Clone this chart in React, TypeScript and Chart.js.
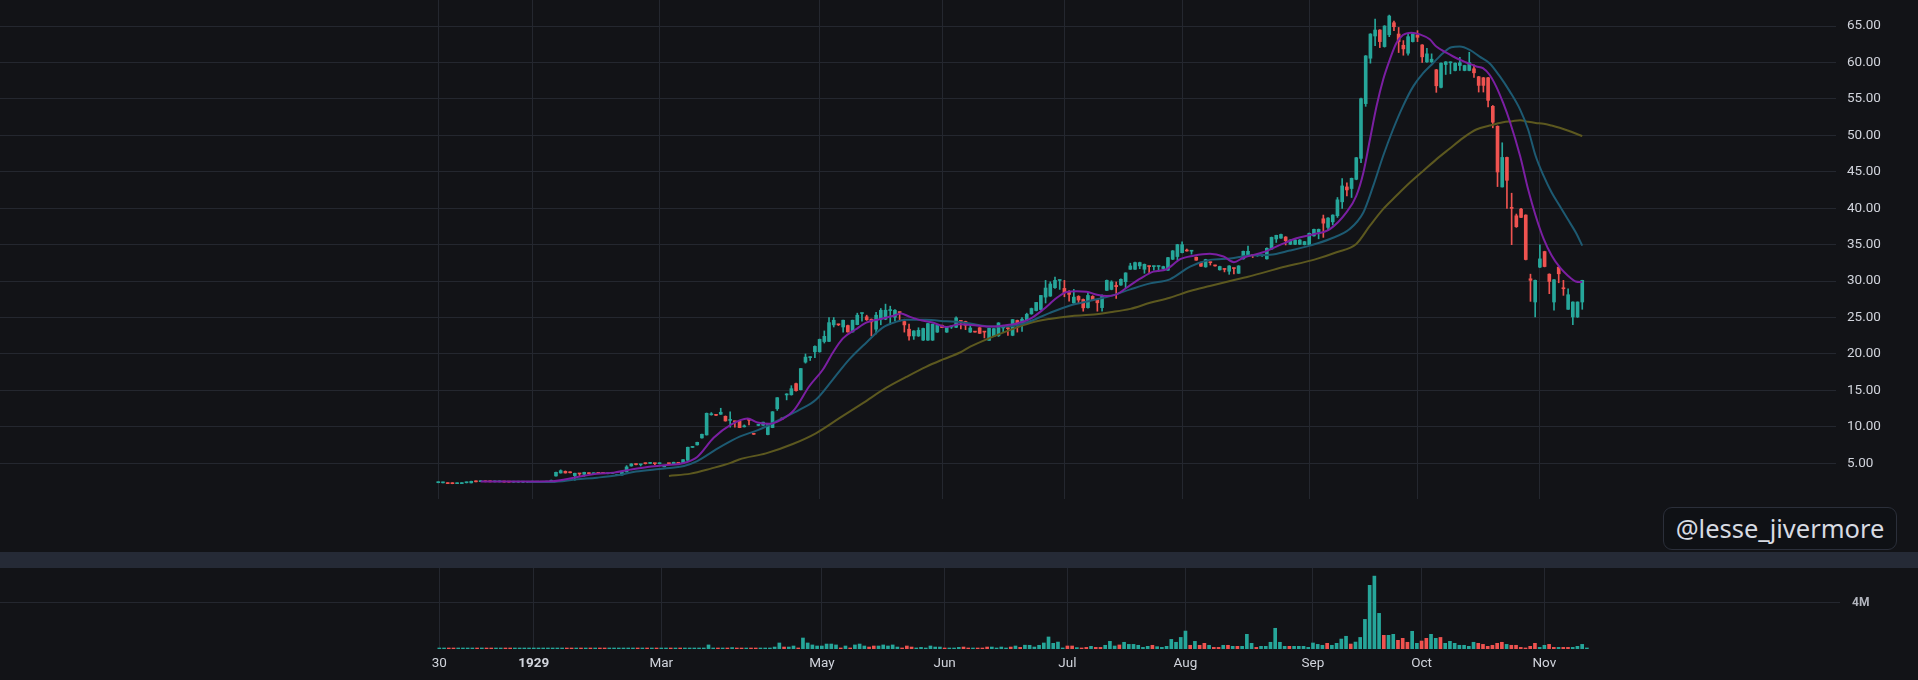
import React, { useEffect, useRef } from "react";
import { Chart, registerables } from "chart.js";

Chart.register(...registerables);

// ---------- DATA ----------
// daily candles [open, high, low, close], bar index 0 = "30" (Dec 1928)
const ohlc: number[][] = [
  [2.34, 2.37, 2.32, 2.36], [2.32, 2.35, 2.3, 2.34], [2.24, 2.25, 2.2, 2.21], [2.23, 2.24, 2.19, 2.2],
  [2.2, 2.23, 2.19, 2.22], [2.21, 2.24, 2.2, 2.23], [2.33, 2.37, 2.3, 2.35], [2.31, 2.55, 2.3, 2.53],
  [2.51, 2.52, 2.44, 2.46], [2.48, 2.54, 2.47, 2.53], [2.49, 2.5, 2.45, 2.47], [2.48, 2.49, 2.44, 2.46],
  [2.45, 2.48, 2.44, 2.47], [2.45, 2.48, 2.44, 2.47], [2.46, 2.47, 2.41, 2.43], [2.45, 2.46, 2.4, 2.42],
  [2.41, 2.44, 2.4, 2.43], [2.41, 2.44, 2.4, 2.43], [2.41, 2.43, 2.39, 2.42], [2.4, 2.43, 2.39, 2.42],
  [2.41, 2.44, 2.4, 2.43], [2.41, 2.43, 2.39, 2.42], [2.4, 2.43, 2.39, 2.42], [2.41, 2.44, 2.4, 2.43],
  [2.4, 2.7, 2.39, 2.67], [3.26, 3.78, 3.24, 3.76], [3.67, 4.1, 3.65, 3.99], [3.9, 3.95, 3.65, 3.67],
  [3.72, 3.75, 3.68, 3.7], [3.31, 3.65, 2.67, 3.63], [3.56, 3.58, 3.31, 3.54], [3.49, 3.78, 3.22, 3.76],
  [3.6, 3.62, 3.55, 3.58], [3.57, 3.6, 3.55, 3.59], [3.64, 3.66, 3.6, 3.62], [3.65, 3.66, 3.6, 3.62],
  [3.57, 3.6, 3.55, 3.59], [3.62, 3.65, 3.6, 3.64], [3.34, 3.37, 3.3, 3.36], [3.4, 3.78, 3.38, 3.76],
  [3.81, 4.68, 3.8, 4.5], [4.63, 4.95, 4.6, 4.91], [4.84, 4.86, 4.78, 4.82], [4.8, 4.84, 4.63, 4.82],
  [4.97, 4.98, 4.9, 4.95], [4.98, 5.14, 4.96, 5.0], [4.97, 4.99, 4.82, 4.95], [4.94, 4.97, 4.92, 4.96],
  [4.52, 4.56, 4.5, 4.55], [4.97, 4.99, 4.82, 4.95], [4.95, 5.16, 4.93, 5.14], [5.02, 5.04, 4.98, 5.0],
  [5.05, 5.52, 5.03, 5.5], [5.41, 7.22, 5.4, 7.2], [7.18, 7.33, 7.15, 7.22], [7.52, 7.9, 7.5, 7.88],
  [8.48, 9.0, 8.45, 8.98], [8.89, 11.9, 8.87, 11.86], [11.66, 11.96, 11.6, 11.7], [11.62, 11.65, 11.55, 11.58],
  [11.73, 12.55, 11.7, 12.0], [11.45, 11.5, 10.78, 10.81], [10.88, 12.07, 9.95, 10.92], [10.75, 10.8, 9.95, 10.7],
  [10.78, 10.85, 9.88, 9.9], [10.0, 10.27, 9.98, 10.04], [10.92, 10.95, 10.27, 10.9], [9.0, 9.05, 8.95, 8.98],
  [10.2, 10.25, 10.15, 10.22], [10.22, 10.65, 10.2, 10.64], [8.94, 10.35, 8.9, 10.32], [9.9, 12.1, 9.88, 12.07],
  [12.48, 14.02, 12.25, 14.0], [11.2, 11.25, 11.0, 11.05], [14.38, 14.55, 13.7, 14.42], [14.4, 15.65, 14.35, 15.24],
  [15.93, 16.0, 14.9, 14.97], [15.1, 18.02, 15.05, 18.0], [18.88, 20.0, 18.74, 19.57], [19.5, 19.62, 19.1, 19.55],
  [20.3, 21.1, 19.5, 21.04], [20.3, 22.05, 20.25, 22.0], [21.7, 23.16, 21.5, 22.42], [21.73, 25.0, 21.7, 24.3],
  [23.99, 25.0, 23.7, 24.63], [24.06, 24.1, 23.9, 24.0], [23.7, 24.65, 23.0, 24.63], [23.9, 23.95, 23.0, 23.02],
  [23.02, 24.65, 23.0, 24.63], [24.03, 25.6, 24.0, 25.32], [25.55, 25.62, 24.5, 25.6], [25.1, 25.32, 24.6, 24.7],
  [24.77, 24.8, 22.47, 24.4], [23.4, 25.7, 22.75, 25.32], [24.77, 26.24, 24.0, 26.0], [24.77, 26.84, 24.7, 26.0],
  [25.95, 26.56, 24.03, 26.0], [25.05, 26.1, 24.54, 26.0], [25.72, 25.75, 24.54, 25.68], [24.45, 24.77, 23.0, 23.99],
  [23.4, 24.1, 21.9, 22.47], [22.47, 23.2, 22.0, 23.16], [22.47, 23.6, 22.4, 23.25], [21.9, 23.55, 21.85, 23.5],
  [21.9, 24.2, 21.85, 24.17], [21.9, 24.12, 21.85, 24.08], [23.0, 23.96, 22.95, 23.94], [23.94, 23.98, 23.6, 23.62],
  [23.0, 23.78, 22.95, 23.76], [23.7, 23.85, 23.5, 23.75], [23.66, 25.09, 23.6, 24.95], [24.52, 24.55, 23.43, 24.47],
  [24.45, 24.5, 23.34, 23.94], [23.0, 24.17, 22.95, 23.57], [23.04, 23.06, 22.98, 23.0], [23.6, 23.62, 22.8, 22.83],
  [23.02, 23.05, 22.2, 23.0], [21.87, 23.55, 21.85, 23.52], [22.42, 23.5, 22.4, 23.48], [22.5, 24.3, 22.4, 24.26],
  [23.57, 23.92, 22.97, 23.9], [23.5, 23.8, 22.56, 23.47], [22.56, 24.74, 22.5, 24.72], [24.6, 24.65, 23.0, 23.94],
  [24.26, 25.0, 23.1, 24.77], [24.68, 25.6, 24.6, 25.45], [25.5, 26.3, 25.45, 26.24], [25.96, 27.1, 25.9, 27.07],
  [26.1, 28.05, 26.0, 28.03], [27.8, 30.1, 27.0, 29.05], [27.94, 29.9, 27.9, 29.6], [29.1, 30.56, 29.0, 30.1],
  [30.08, 30.15, 28.86, 30.1], [29.0, 30.1, 27.85, 28.4], [28.6, 28.7, 27.25, 28.17], [27.0, 28.86, 26.95, 27.8],
  [27.9, 28.0, 26.93, 27.4], [27.48, 27.55, 25.87, 26.33], [26.36, 28.4, 26.3, 28.03], [27.9, 28.0, 27.3, 27.34],
  [27.43, 27.5, 25.87, 27.02], [26.36, 28.1, 25.87, 28.03], [28.73, 30.15, 28.7, 30.1], [28.86, 30.05, 28.8, 29.88],
  [29.41, 29.88, 27.62, 29.23], [29.46, 30.3, 29.4, 30.24], [29.92, 31.15, 29.1, 31.12], [31.62, 32.45, 31.6, 32.08],
  [31.62, 32.6, 31.6, 32.54], [32.08, 32.6, 31.7, 32.54], [31.62, 32.35, 31.07, 32.3], [32.02, 32.05, 31.16, 31.99],
  [31.99, 32.05, 31.5, 32.02], [32.0, 32.05, 31.3, 32.02], [31.72, 32.05, 31.7, 31.99], [31.5, 33.25, 31.45, 33.22],
  [33.0, 34.2, 32.95, 34.15], [33.37, 35.05, 32.9, 35.0], [33.9, 35.4, 33.85, 35.0], [34.17, 34.4, 34.1, 34.13],
  [34.1, 34.2, 33.7, 34.15], [33.28, 33.3, 32.85, 32.87], [32.55, 32.6, 32.0, 32.04], [31.95, 33.0, 31.9, 32.96],
  [32.57, 32.6, 32.2, 32.53], [32.1, 32.15, 32.05, 32.08], [31.55, 32.05, 31.5, 32.0], [31.64, 31.7, 31.26, 31.6],
  [31.35, 32.12, 30.93, 32.08], [31.75, 31.8, 31.0, 31.72], [31.07, 32.12, 31.05, 32.08], [33.05, 34.12, 33.0, 34.09],
  [33.5, 34.8, 33.45, 34.09], [33.52, 33.55, 33.23, 33.5], [33.48, 33.55, 33.4, 33.52], [33.48, 33.55, 33.4, 33.52],
  [33.05, 34.55, 33.0, 34.5], [34.4, 36.05, 34.35, 36.0], [35.78, 36.3, 35.3, 36.28], [35.9, 36.45, 35.85, 36.4],
  [36.05, 36.1, 34.96, 35.55], [35.05, 35.7, 35.0, 35.64], [35.05, 35.7, 35.0, 35.64], [35.05, 35.7, 35.0, 35.64],
  [35.0, 35.45, 34.95, 35.41], [35.0, 36.6, 34.95, 36.55], [36.2, 37.15, 36.15, 37.1], [36.7, 37.15, 35.8, 37.1],
  [38.55, 39.06, 36.0, 37.95], [37.37, 38.7, 37.05, 38.65], [38.13, 39.1, 37.7, 39.06], [38.97, 41.47, 38.74, 41.15],
  [40.88, 44.06, 39.97, 43.06], [42.92, 43.5, 41.7, 42.51], [42.7, 44.14, 41.47, 44.1], [43.97, 46.97, 43.9, 46.93],
  [46.84, 55.1, 46.25, 55.03], [54.35, 60.95, 53.98, 60.9], [60.58, 63.95, 59.9, 63.9], [63.63, 65.96, 62.3, 64.45],
  [64.45, 64.5, 62.04, 62.86], [62.18, 65.05, 62.1, 65.0], [63.8, 66.5, 63.54, 66.37], [65.45, 65.68, 64.36, 64.9],
  [63.9, 64.8, 61.36, 62.86], [62.36, 63.0, 60.99, 61.86], [61.27, 64.0, 60.99, 63.54], [62.86, 63.95, 62.8, 63.9],
  [63.77, 64.36, 62.86, 63.45], [62.4, 62.45, 60.0, 60.77], [60.08, 61.95, 60.0, 61.18], [60.08, 61.18, 60.0, 60.45],
  [58.99, 59.05, 55.9, 56.8], [56.58, 59.95, 56.5, 59.9], [59.72, 60.12, 58.35, 60.08], [59.95, 60.08, 58.44, 59.99],
  [58.9, 59.95, 58.85, 59.9], [59.58, 60.72, 58.9, 59.95], [58.9, 59.62, 58.85, 59.58], [58.9, 61.4, 58.85, 59.99],
  [59.13, 59.67, 57.95, 58.58], [58.04, 58.1, 55.94, 56.85], [57.9, 57.95, 55.94, 56.85], [57.9, 57.95, 53.9, 54.8],
  [53.98, 54.1, 51.03, 51.8], [51.25, 51.3, 42.97, 44.97], [42.92, 48.98, 42.9, 46.97], [46.97, 47.0, 39.97, 43.83],
  [40.12, 42.06, 35.0, 39.97], [38.96, 39.2, 37.37, 37.46], [39.88, 39.97, 38.7, 38.74], [39.06, 39.1, 32.9, 32.96],
  [30.32, 30.95, 27.22, 30.1], [27.13, 30.15, 25.08, 30.1], [31.91, 34.96, 31.85, 33.05], [34.05, 34.1, 31.95, 32.0],
  [30.95, 31.0, 28.27, 29.95], [27.13, 30.2, 26.0, 30.18], [31.91, 32.0, 29.77, 31.0], [28.97, 30.1, 28.04, 28.95],
  [26.13, 28.95, 26.1, 28.13], [25.08, 27.15, 24.03, 27.13], [25.08, 27.15, 25.0, 27.13], [27.13, 30.12, 26.13, 30.1],
];

// daily volume in millions of shares (same bar index as ohlc)
const volume: number[] = [
  0.05, 0.05, 0.05, 0.05, 0.05, 0.05, 0.05, 0.05, 0.05, 0.09, 0.05, 0.05, 0.05, 0.05, 0.05, 0.05,
  0.05, 0.05, 0.05, 0.05, 0.05, 0.05, 0.05, 0.05, 0.05, 0.05, 0.05, 0.05, 0.05, 0.05, 0.05, 0.05,
  0.05, 0.05, 0.05, 0.05, 0.05, 0.05, 0.05, 0.08, 0.08, 0.08, 0.05, 0.05, 0.05, 0.05, 0.05, 0.05,
  0.05, 0.05, 0.05, 0.05, 0.05, 0.08, 0.05, 0.05, 0.05, 0.35, 0.05, 0.05, 0.05, 0.05, 0.12, 0.05,
  0.05, 0.05, 0.05, 0.05, 0.05, 0.05, 0.05, 0.17, 0.52, 0.17, 0.17, 0.26, 0.09, 0.95, 0.52, 0.35,
  0.26, 0.26, 0.43, 0.43, 0.35, 0.09, 0.26, 0.09, 0.35, 0.43, 0.26, 0.17, 0.26, 0.26, 0.35, 0.26,
  0.35, 0.17, 0.09, 0.26, 0.17, 0.09, 0.14, 0.05, 0.26, 0.17, 0.17, 0.05, 0.05, 0.05, 0.14, 0.17,
  0.05, 0.05, 0.05, 0.05, 0.17, 0.17, 0.05, 0.17, 0.05, 0.17, 0.26, 0.14, 0.33, 0.32, 0.17, 0.32,
  0.52, 1.04, 0.49, 0.6, 0.09, 0.26, 0.26, 0.12, 0.09, 0.14, 0.23, 0.14, 0.14, 0.32, 0.66, 0.26,
  0.35, 0.58, 0.4, 0.4, 0.32, 0.14, 0.23, 0.32, 0.2, 0.14, 0.23, 0.83, 0.58, 1.0, 1.55, 0.32,
  0.66, 0.32, 0.49, 0.32, 0.14, 0.14, 0.32, 0.32, 0.23, 0.23, 0.23, 1.27, 0.49, 0.14, 0.23, 0.23,
  0.58, 1.79, 0.58, 0.23, 0.23, 0.23, 0.23, 0.23, 0.14, 0.52, 0.4, 0.32, 0.49, 0.32, 0.49, 0.86,
  1.1, 0.43, 0.6, 1.0, 2.56, 5.5, 6.3, 3.08, 1.18, 1.18, 1.27, 0.75, 0.92, 0.58, 1.53, 0.49,
  0.69, 0.92, 1.27, 0.92, 1.0, 0.49, 0.66, 0.49, 0.32, 0.32, 0.23, 0.58, 0.49, 0.4, 0.23, 0.32,
  0.49, 0.58, 0.4, 0.32, 0.32, 0.14, 0.09, 0.23, 0.49, 0.14, 0.32, 0.4, 0.14, 0.14, 0.14, 0.14,
  0.14, 0.23, 0.4, 0.09,
];

// moving averages: [bar index, value]
const maFast: number[][] = [
  [9, 2.5], [15, 2.5], [20, 2.51], [24, 2.53], [29.5, 3.12], [33.7, 3.58], [37.3, 3.72], [40.8, 4.13],
  [44.4, 4.5], [48, 4.73], [52.2, 5.05], [55, 5.87], [58.5, 8.5], [62, 10.25], [65.7, 11.15], [67.8, 10.6],
  [70.3, 10.41], [72.8, 10.96], [75.6, 12.34], [78.8, 15.57], [81.7, 17.87], [83.8, 20.17], [85.9, 22.1],
  [88.7, 23.39], [90.9, 24.31], [93.7, 24.77], [96.5, 25.2], [98.3, 25.55], [100, 25.14], [102.2, 24.68],
  [105, 24.31], [107.9, 23.71], [110.7, 24.08], [114.4, 23.9], [117.2, 23.76], [120, 23.9], [122.9, 24.17],
  [125.7, 24.81], [128.5, 26.1], [131.4, 27.71], [133.5, 28.5], [135.6, 28.59], [137.7, 28.54], [139.9, 28.13],
  [142, 27.94], [144.1, 28.17], [146.2, 29.09], [149.1, 30.34], [151.9, 31.3], [154.7, 31.62], [157.6, 33.0],
  [160.4, 33.47], [163.9, 33.74], [166.8, 33.37], [169, 32.6], [171, 33.2], [175.2, 33.96], [178.8, 34.96],
  [182.3, 35.87], [185.9, 36.42], [189.4, 37.14], [192.9, 39.42], [195, 41.7], [196.5, 44.88], [197.9, 49.43],
  [199.3, 53.98], [200.7, 57.63], [202.1, 60.36], [203.5, 62.63], [204.9, 63.77], [206.7, 64.09], [208.5, 63.86],
  [210.6, 63.18], [212, 62.18], [214.1, 61.36], [216.3, 60.58], [218.4, 59.99], [220.5, 59.45], [221.9, 59.22],
  [223.3, 58.31], [224.7, 56.72], [226.2, 54.44], [227.6, 51.94], [229.8, 47.16], [231.5, 42.6], [233.1, 38.96],
  [234.8, 35.78], [236.5, 33.5], [238.2, 31.9], [239.9, 30.77], [241.6, 29.95], [243, 29.86],
];
const maMid: number[][] = [
  [19, 2.42], [24, 2.44], [29.5, 2.8], [33.7, 3.03], [38, 3.35], [42, 3.86], [48, 4.27], [52.2, 4.63],
  [55, 5.3], [59, 6.9], [62, 8.0], [64, 8.66], [68, 9.58], [72.4, 10.96], [76.7, 12.34], [80.2, 13.72],
  [83.8, 16.49], [87.3, 19.25], [90.9, 21.55], [94.4, 23.62], [97.2, 24.4], [99.4, 24.68], [103.6, 24.68],
  [107.9, 24.49], [110.7, 24.4], [113, 24.17], [117.2, 23.76], [121.5, 23.8], [125.7, 24.49], [129.9, 25.64],
  [134.2, 26.65], [138.5, 27.3], [142.7, 27.94], [147, 28.86], [151.2, 29.69], [155.4, 30.24], [159.7, 31.99],
  [163.9, 32.91], [168.2, 33.1], [172.4, 33.5], [176.7, 33.6], [180.9, 34.19], [185.1, 34.87], [189.4, 35.78],
  [193.6, 37.14], [196.5, 39.42], [198.6, 43.06], [200.7, 47.16], [202.8, 50.8], [204.9, 53.98], [207.1, 56.72],
  [209.2, 58.54], [211.3, 59.9], [213.4, 61.27], [215.2, 62.09], [217, 62.18], [219.1, 61.72], [221.2, 60.81],
  [223.3, 59.9], [225.5, 58.08], [227.6, 56.03], [229.8, 53.53], [231.5, 50.8], [233.1, 47.16], [234.8, 44.43],
  [236.5, 42.15], [238.2, 40.33], [239.9, 38.51], [241.6, 36.69], [243, 34.87],
];
const maSlow: number[][] = [
  [49, 3.26], [53.6, 3.58], [57.9, 4.27], [62.1, 5.05], [63.9, 5.53], [69.6, 6.36], [75.3, 7.65], [80.2, 9.12],
  [85.2, 11.19], [90.2, 13.26], [95.1, 15.34], [99.4, 16.85], [103.6, 18.24], [107.2, 19.25], [110.7, 20.17],
  [113, 21.0], [117.2, 22.2], [121.5, 23.3], [125.7, 24.26], [129.9, 24.81], [134.2, 25.18], [138.5, 25.37],
  [142.7, 25.73], [147, 26.19], [151.2, 27.02], [155.4, 27.71], [159.7, 28.63], [163.9, 29.32], [168.2, 30.01],
  [172, 30.6], [176, 31.3], [180, 32.0], [184, 32.6], [186.6, 33.05], [190.8, 33.96], [195, 35.1], [197.9, 37.6],
  [200.7, 39.88], [203.5, 41.7], [206.4, 43.52], [209.2, 45.11], [212, 46.7], [214.8, 48.16], [217.7, 49.66],
  [220.5, 50.8], [223.3, 51.34], [226.2, 51.8], [228.1, 51.94], [229.8, 52.07], [231.5, 51.85], [233.1, 51.7],
  [234.8, 51.6], [236.5, 51.34], [238.2, 51.03], [239.9, 50.66], [241.6, 50.25], [243, 49.89],
];

const priceTicks: number[] = [5, 10, 15, 20, 25, 30, 35, 40, 45, 50, 55, 60, 65];
const volumeTicks: number[] = [4];
const timeLabels: string[] = ["30", "1929", "Mar", "May", "Jun", "Jul", "Aug", "Sep", "Oct", "Nov"];
const timeIndex: number[] = [0, 20, 47, 81, 107, 133, 158, 185, 208, 234];

// ---------- STYLE ----------
const BG = "#121317";
const GRID = "#24272f";
const UP = "#26a69a";
const DOWN = "#ef5350";
const FONT = "Roboto, 'Noto Sans', sans-serif";

const candleColors = ohlc.map((c) => (c[3] >= c[0] ? UP : DOWN));

const noPad = (s: any) => {
  s.paddingTop = 0;
  s.paddingBottom = 0;
  s.paddingLeft = 0;
  s.paddingRight = 0;
};

function PriceChart() {
  const ref = useRef<HTMLCanvasElement | null>(null);
  useEffect(() => {
    if (!ref.current) return;
    const line = (data: number[][], color: string) => ({
      type: "line" as const,
      data: data.map(([x, y]) => ({ x, y })),
      borderColor: color,
      borderWidth: 2,
      pointRadius: 0,
      cubicInterpolationMode: "monotone" as const,
      order: 0,
    });
    const chart = new Chart(ref.current, {
      type: "bar",
      data: {
        datasets: [
          line(maFast, "#7b1fa2"),
          line(maMid, "#1d5a72"),
          line(maSlow, "#5c581f"),
          {
            type: "bar",
            data: ohlc.map((c, i) => ({ x: i, y: [c[0], c[3]] })),
            backgroundColor: candleColors,
            barThickness: 3,
            minBarLength: 1,
            grouped: false,
            order: 1,
          } as any,
          {
            type: "bar",
            data: ohlc.map((c, i) => ({ x: i, y: [c[2], c[1]] })),
            backgroundColor: candleColors,
            barThickness: 1,
            minBarLength: 1,
            grouped: false,
            order: 2,
          } as any,
        ],
      },
      options: {
        animation: false,
        responsive: true,
        maintainAspectRatio: false,
        layout: { padding: 0, autoPadding: false },
        plugins: { legend: { display: false }, tooltip: { enabled: false } },
        scales: {
          x: {
            type: "linear",
            min: -93.1,
            max: 296.9,
            offset: false,
            grid: { color: GRID, drawTicks: false, offset: false },
            border: { display: false },
            ticks: { display: false },
            afterBuildTicks: (s: any) => {
              s.ticks = timeIndex.map((v) => ({ value: v }));
            },
            afterFit: (s: any) => {
              s.height = 0;
              noPad(s);
            },
          },
          y: {
            type: "linear",
            position: "right",
            min: 0.1,
            max: 68.57,
            grid: { color: GRID, drawTicks: false },
            border: { display: false },
            afterBuildTicks: (s: any) => {
              s.ticks = priceTicks.map((v) => ({ value: v }));
            },
            afterFit: (s: any) => {
              s.width = 82;
              noPad(s);
            },
            ticks: {
              color: "#d1d4dc",
              font: { family: FONT, size: 13.5 },
              padding: 11,
              callback: (v: any) => Number(v).toFixed(2),
            },
          },
        },
      } as any,
    });
    return () => chart.destroy();
  }, []);
  return <canvas ref={ref} />;
}

function VolumeChart() {
  const ref = useRef<HTMLCanvasElement | null>(null);
  useEffect(() => {
    if (!ref.current) return;
    const chart = new Chart(ref.current, {
      type: "bar",
      data: {
        datasets: [
          {
            data: volume.map((v, i) => ({ x: i, y: v })),
            backgroundColor: candleColors,
            barThickness: 3,
            minBarLength: 1,
            grouped: false,
          } as any,
        ],
      },
      options: {
        animation: false,
        responsive: true,
        maintainAspectRatio: false,
        layout: { padding: 0, autoPadding: false },
        plugins: { legend: { display: false }, tooltip: { enabled: false } },
        scales: {
          x: {
            type: "linear",
            min: -93.03,
            max: 296.6,
            offset: false,
            grid: { color: GRID, drawTicks: false, offset: false },
            border: { display: false },
            afterBuildTicks: (s: any) => {
              s.ticks = timeIndex.map((v) => ({ value: v }));
            },
            afterFit: (s: any) => {
              s.height = 31;
              noPad(s);
            },
            ticks: {
              autoSkip: false,
              maxRotation: 0,
              minRotation: 0,
              padding: 7,
              color: "#d1d4dc",
              font: (ctx: any) => ({
                family: FONT,
                size: 13.5,
                weight: ctx.tick && timeLabels[timeIndex.indexOf(ctx.tick.value)] === "1929" ? "bold" : "normal",
              }),
              callback: (v: any) => {
                const k = timeIndex.indexOf(Number(v));
                return k >= 0 ? timeLabels[k] : "";
              },
            },
          },
          y: {
            type: "linear",
            position: "right",
            min: 0,
            max: 7.0,
            grid: { color: GRID, drawTicks: false },
            border: { display: false },
            afterBuildTicks: (s: any) => {
              s.ticks = volumeTicks.map((v) => ({ value: v }));
            },
            afterFit: (s: any) => {
              s.width = 78;
              noPad(s);
            },
            ticks: {
              color: "#b2b5be",
              font: { family: FONT, size: 12, weight: "bold" },
              padding: 12,
              callback: (v: any) => `${v}M`,
            },
          },
        },
      } as any,
    });
    return () => chart.destroy();
  }, []);
  return <canvas ref={ref} />;
}

export default function App() {
  return (
    <div
      style={{
        position: "fixed",
        left: 0,
        top: 0,
        width: 1918,
        height: 680,
        background: BG,
        overflow: "hidden",
      }}
    >
      <div style={{ position: "absolute", left: 0, top: 0, width: 1918, height: 499 }}>
        <PriceChart />
      </div>
      <div
        style={{
          position: "absolute",
          left: 1663,
          top: 507,
          width: 232,
          height: 41,
          border: "1px solid #2b2f3a",
          borderRadius: 9,
          background: "#0f1115",
          color: "#d8dbe2",
          fontFamily: "'Noto Sans', sans-serif",
          fontSize: 25.5,
          display: "flex",
          alignItems: "center",
          justifyContent: "center",
          lineHeight: 1,
        }}
      >
        @lesse_jivermore
      </div>
      <div style={{ position: "absolute", left: 0, top: 552, width: 1918, height: 16, background: "#252a36" }} />
      <div style={{ position: "absolute", left: 0, top: 568, width: 1918, height: 112 }}>
        <VolumeChart />
      </div>
    </div>
  );
}
